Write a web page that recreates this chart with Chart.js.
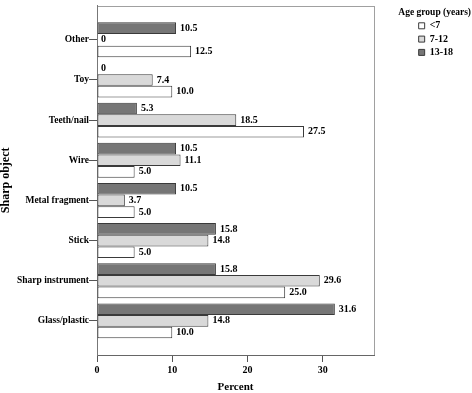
<!DOCTYPE html>
<html>
<head>
<meta charset="utf-8">
<script src="https://cdn.jsdelivr.net/npm/chart.js@4"></script>
<style>
  body { margin: 0; background: #fff; }
  #wrap { width: 472px; height: 393px; position: relative; }
</style>
</head>
<body>
<div id="wrap"><canvas id="chart"></canvas></div>
<script>
const objects = ['Other', 'Toy', 'Teeth/nail', 'Wire', 'Metal fragment', 'Stick', 'Sharp instrument', 'Glass/plastic'];
const under7 = [12.5, 10.0, 27.5, 5.0, 5.0, 5.0, 25.0, 10.0];
const age7to12 = [0, 7.4, 18.5, 11.1, 3.7, 14.8, 29.6, 14.8];
const age13to18 = [10.5, 0, 5.3, 10.5, 10.5, 15.8, 15.8, 31.6];
const percentTicks = [0, 10, 20, 30];
const legendTitle = 'Age group (years)';

const serif = "'Liberation Serif', 'Times New Roman', serif";
const toPoints = vals => vals.map((v, i) => ({ x: v, y: i }));

// frame round the plot area
const framePlugin = {
    id: 'frame',
    beforeDraw(chart) {
        const a = chart.chartArea;
        const ctx = chart.ctx;
        ctx.save();
        ctx.strokeStyle = '#a0a0a0';
        ctx.lineWidth = 1;
        ctx.strokeRect(Math.round(a.left) + 0.5, Math.round(a.top) + 0.5, Math.round(a.right - a.left), Math.round(a.bottom - a.top));
        ctx.restore();
    }
};

// value labels at the end of each bar
const valueLabels = {
    id: 'valueLabels',
    afterDatasetsDraw(chart) {
        const ctx = chart.ctx;
        ctx.save();
        ctx.font = 'bold 10px ' + serif;
        ctx.fillStyle = '#000';
        ctx.textAlign = 'left';
        ctx.textBaseline = 'middle';
        chart.data.datasets.forEach((ds, i) => {
            chart.getDatasetMeta(i).data.forEach((bar, j) => {
                const v = ds.data[j].x;
                ctx.fillText(v === 0 ? '0' : v.toFixed(1), bar.x + 4, bar.y);
            });
        });
        ctx.restore();
    }
};

// legend title is wider than the legend box, so it is drawn here (the legend clips its own title)
const legendTitlePlugin = {
    id: 'legendTitle',
    afterDraw(chart) {
        const ctx = chart.ctx;
        ctx.save();
        ctx.font = 'bold 9.5px ' + serif;
        ctx.fillStyle = '#000';
        ctx.textAlign = 'right';
        ctx.textBaseline = 'middle';
        ctx.fillText(legendTitle, chart.width - 1, chart.legend.top + 10);
        ctx.restore();
    }
};

new Chart(document.getElementById('chart'), {
    type: 'bar',
    data: {
        datasets: [
            {
                label: '13-18',
                data: toPoints(age13to18),
                backgroundColor: '#767676',
                borderColor: '#3a3a3a',
                borderWidth: 1,
                borderSkipped: false
            },
            {
                label: '7-12',
                data: toPoints(age7to12),
                backgroundColor: '#d9d9d9',
                borderColor: '#3a3a3a',
                borderWidth: 1,
                borderSkipped: false
            },
            {
                label: '<7',
                data: toPoints(under7),
                backgroundColor: '#ffffff',
                borderColor: '#3a3a3a',
                borderWidth: 1,
                borderSkipped: false
            }
        ]
    },
    options: {
        indexAxis: 'y',
        responsive: true,
        maintainAspectRatio: false,
        animation: false,
        categoryPercentage: 0.87,
        barPercentage: 1.0,
        layout: { padding: { top: 3, right: 9, left: 0, bottom: 0 } },
        scales: {
            x: {
                type: 'linear',
                min: 0,
                max: 36.8,
                afterBuildTicks: s => { s.ticks = percentTicks.map(v => ({ value: v })); },
                afterFit: s => { s.height = 38; },
                grid: { display: true, drawOnChartArea: false, tickLength: 7, color: '#555' },
                border: { display: true, color: '#666' },
                ticks: { color: '#000', padding: 2, font: { family: serif, size: 10, weight: 'bold' } },
                title: {
                    display: true,
                    text: 'Percent',
                    color: '#000',
                    font: { family: serif, size: 11, weight: 'bold', lineHeight: 1 },
                    padding: { top: 0, bottom: 0.5 }
                }
            },
            y: {
                type: 'linear',
                reverse: true,
                offset: false,
                bounds: 'data',
                min: -0.85,
                max: 7.85,
                afterBuildTicks: s => { s.ticks = objects.map((o, i) => ({ value: i })); },
                afterFit: s => { s.width = 97; },
                grid: { display: true, offset: false, drawOnChartArea: false, tickLength: 8, color: '#555' },
                border: { display: true, color: '#777' },
                ticks: {
                    padding: 0,
                    color: '#000',
                    font: { family: serif, size: 9.5, weight: 'bold' },
                    callback: v => objects[v] ?? ''
                },
                title: {
                    display: true,
                    text: 'Sharp object',
                    color: '#000',
                    font: { family: serif, size: 12, weight: 'bold', lineHeight: 1 },
                    padding: { top: 0, bottom: 0 }
                }
            },
            gap: {
                type: 'linear',
                axis: 'y',
                position: 'right',
                display: true,
                offset: false,
                grid: { display: false },
                border: { display: false },
                ticks: { display: false },
                afterFit: s => { s.width = Math.max(0, 472 - 374 - 9 - s.chart.legend.width); }
            }
        },
        plugins: {
            legend: {
                position: 'right',
                align: 'start',
                reverse: true,
                title: {
                    display: true,
                    text: '',
                    font: { family: serif, size: 9.5, weight: 'bold', lineHeight: 1 },
                    padding: { top: 5, bottom: 0 }
                },
                labels: {
                    boxWidth: 6,
                    boxHeight: 6,
                    padding: 3.3,
                    color: '#000',
                    font: { family: serif, size: 10, weight: 'bold' }
                }
            },
            tooltip: { enabled: false }
        }
    },
    plugins: [framePlugin, valueLabels, legendTitlePlugin]
});
</script>
</body>
</html>
